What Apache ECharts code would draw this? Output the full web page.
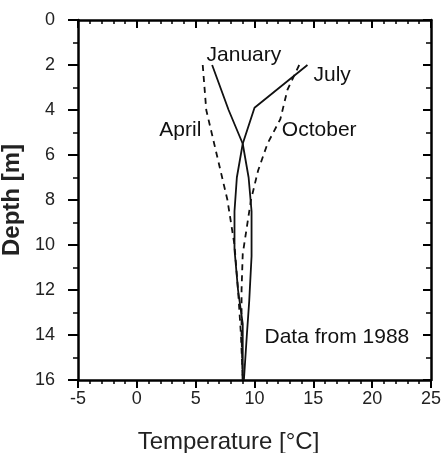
<!DOCTYPE html>
<html>
<head>
<meta charset="utf-8">
<script src="https://cdn.jsdelivr.net/npm/echarts@6/dist/echarts.min.js"></script>
<style>html,body{margin:0;padding:0;background:#fff}#c{width:442px;height:453px}</style>
</head>
<body>
<div id="c"></div>
<script>
// Depth [m] vs temperature [°C]
var januaryTemp  = [6.4, 7.8, 9.0, 9.5, 9.75, 9.75, 9.55, 9.35, 9.1];
var januaryDepth = [2,   4,   5.5, 7,   8.5,  10.5, 12.5, 14,   16];
var julyTemp  = [14.5, 10.0, 9.0, 8.5, 8.3, 8.3,  8.6,  9.0, 9.0];
var julyDepth = [2,    3.9,  5.5, 7,   8.5, 10.2, 12,   13.5, 16];
var aprilTemp  = [5.6, 5.9, 6.8, 7.7, 8.3, 8.6, 8.85, 9.0];
var aprilDepth = [2,   4,   6,   8,   10,  12,  14,   16];
var octoberTemp  = [13.8, 12.8, 12.2, 11.1, 10.3, 9.7, 9.0,  8.9, 8.9, 9.0];
var octoberDepth = [2,    3.1,  4.4,  5.5,  6.7,  8,   10.4, 12,  14,  16];
var xTicks = [-5, 0, 5, 10, 15, 20, 25];
var yTicks = [0, 2, 4, 6, 8, 10, 12, 14, 16];
var labels = [
  {text: 'January', t: 9.1, d: 1.55},
  {text: 'July', t: 16.6, d: 2.45},
  {text: 'April', t: 3.7, d: 4.9},
  {text: 'October', t: 15.5, d: 4.9},
  {text: 'Data from 1988', t: 17.0, d: 14.1}
];

function pairs(xs, ys){ return xs.map(function(v,i){ return [v, ys[i]]; }); }
var font = 'Liberation Sans, Arial, sans-serif';
var chart = echarts.init(document.getElementById('c'));
var axisLine = {show:true, onZero:false, lineStyle:{color:'#000', width:2.5}};
chart.setOption({
  animation:false,
  grid:{left:78, right:11, top:20, bottom:73, containLabel:false, outerBoundsMode:'none'},
  xAxis:[{
    type:'value', min:xTicks[0], max:xTicks[xTicks.length-1], interval:5, position:'bottom',
    axisLine:axisLine, axisTick:{show:true, inside:false, length:8, lineStyle:{color:'#000', width:2}},
    minorTick:{show:true, splitNumber:5, length:4, lineStyle:{color:'#000', width:1.5}},
    splitLine:{show:false},
    axisLabel:{color:'#222', fontSize:18, fontFamily:font, margin:10},
    name:'Temperature [°C]', nameLocation:'middle', nameGap:50,
    nameTextStyle:{color:'#222', fontSize:24, fontFamily:font, padding:[0,52,0,0]}
  },{
    type:'value', min:xTicks[0], max:xTicks[xTicks.length-1], interval:5, position:'top',
    axisLine:axisLine, axisTick:{show:true, inside:true, length:8, lineStyle:{color:'#000', width:2}},
    minorTick:{show:true, splitNumber:5, length:4, lineStyle:{color:'#000', width:1.5}},
    splitLine:{show:false}, axisLabel:{show:false}
  }],
  yAxis:[{
    type:'value', min:yTicks[0], max:yTicks[yTicks.length-1], interval:2, inverse:true, position:'left',
    axisLine:axisLine, axisTick:{show:true, inside:false, length:10, lineStyle:{color:'#000', width:2}},
    minorTick:{show:true, splitNumber:2, length:5, lineStyle:{color:'#000', width:1.5}},
    splitLine:{show:false},
    axisLabel:{color:'#222', fontSize:18, fontFamily:font, margin:23},
    name:'Depth [m]', nameLocation:'middle', nameGap:14, nameRotate:90,
    nameTextStyle:{color:'#222', fontSize:24, fontWeight:'bold', fontFamily:font}
  },{
    type:'value', min:yTicks[0], max:yTicks[yTicks.length-1], interval:2, inverse:true, position:'right',
    axisLine:axisLine, axisTick:{show:true, inside:true, length:8, lineStyle:{color:'#000', width:2}},
    minorTick:{show:true, splitNumber:2, length:5, lineStyle:{color:'#000', width:1.5}},
    splitLine:{show:false}, axisLabel:{show:false}
  }],
  series:[
    {type:'line', name:'January', data:pairs(januaryTemp, januaryDepth), symbol:'none', smooth:false,
     lineStyle:{color:'#111', width:1.8, type:'solid'},
     markPoint:{symbolSize:0, silent:true, data: labels.map(function(l){ return {coord:[l.t, l.d], value:l.text}; }),
       label:{show:true, position:'inside', color:'#111', fontSize:21, fontFamily:font, formatter:function(p){return p.value;}}}},
    {type:'line', name:'July', data:pairs(julyTemp, julyDepth), symbol:'none',
     lineStyle:{color:'#111', width:1.8, type:'solid'}},
    {type:'line', name:'April', data:pairs(aprilTemp, aprilDepth), symbol:'none',
     lineStyle:{color:'#111', width:1.8, type:[6,5]}},
    {type:'line', name:'October', data:pairs(octoberTemp, octoberDepth), symbol:'none',
     lineStyle:{color:'#111', width:1.8, type:[6,5]}}
  ]
});
</script>
</body>
</html>
